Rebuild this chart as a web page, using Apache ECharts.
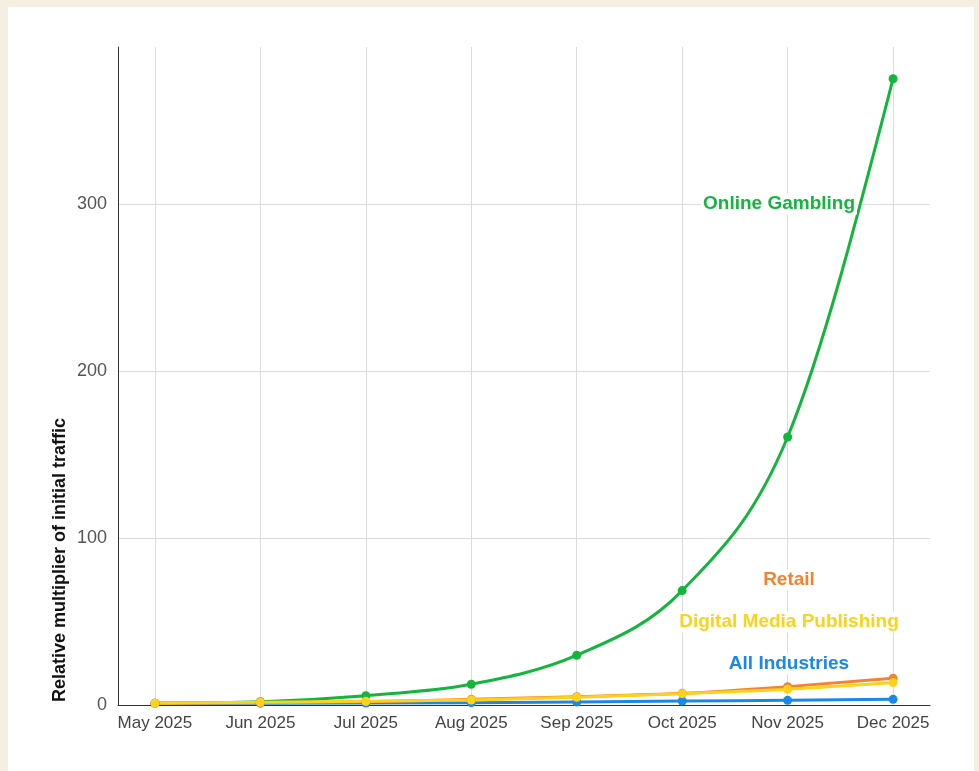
<!DOCTYPE html>
<html>
<head>
<meta charset="utf-8">
<script src="https://cdn.jsdelivr.net/npm/echarts@6/dist/echarts.min.js"></script>
<style>
  html, body { margin: 0; padding: 0; background: #f5efe2; }
  #card {
    position: absolute; left: 8px; top: 7px; width: 966px; height: 764px;
    background: #ffffff;
  }
  #chart { width: 979px; height: 771px; position: absolute; left: -8px; top: -7px; }
</style>
</head>
<body>
<div id="card"><div id="chart"></div></div>
<script>
// Month labels for the x axis
const months = ['May 2025', 'Jun 2025', 'Jul 2025', 'Aug 2025', 'Sep 2025', 'Oct 2025', 'Nov 2025', 'Dec 2025'];

// Relative multiplier of initial traffic
const onlineGambling = [1, 2, 5.6, 12.4, 29.8, 68.5, 160.5, 375];
const retail = [1, 1.4, 2, 3.4, 5, 7, 11, 16];
const digitalMedia = [1, 1.6, 2.2, 3, 4.6, 6.8, 9.4, 13.4];
const allIndustries = [1, 1.1, 1.2, 1.4, 1.8, 2.4, 2.8, 3.4];

const yTicks = [0, 100, 200, 300];

const toPairs = arr => arr.map((v, i) => [i, v]);

const chart = echarts.init(document.getElementById('chart'));

// monotone-x tangents (same idea as d3.curveMonotoneX), in pixel space
function tangents(pts) {
  const n = pts.length;
  const d = [], m = new Array(n).fill(0);
  for (let k = 0; k < n - 1; k++) {
    d.push((pts[k + 1][1] - pts[k][1]) / (pts[k + 1][0] - pts[k][0]));
  }
  for (let k = 1; k < n - 1; k++) {
    const h0 = pts[k][0] - pts[k - 1][0], h1 = pts[k + 1][0] - pts[k][0];
    const s0 = d[k - 1], s1 = d[k];
    const p = (s0 * h1 + s1 * h0) / (h0 + h1);
    m[k] = (Math.sign(s0) + Math.sign(s1)) * Math.min(Math.abs(s0), Math.abs(s1), 0.5 * Math.abs(p)) || 0;
  }
  m[0] = (3 * d[0] - m[1]) / 2;
  m[n - 1] = (3 * d[n - 2] - m[n - 2]) / 2;
  return m;
}

function curveSeries(name, values, color) {
  return {
    name: name,
    type: 'custom',
    data: toPairs(values),
    encode: { x: 0, y: 1 },
    silent: true,
    renderItem: function (params, api) {
      const i = params.dataIndex;
      const pts = values.map((v, k) => api.coord([k, v]));
      const m = tangents(pts);
      const children = [];
      if (i < pts.length - 1) {
        const a = pts[i], b = pts[i + 1];
        const dx = (b[0] - a[0]) / 3;
        children.push({
          type: 'bezierCurve',
          shape: {
            x1: a[0], y1: a[1], x2: b[0], y2: b[1],
            cpx1: a[0] + dx, cpy1: a[1] + dx * m[i],
            cpx2: b[0] - dx, cpy2: b[1] - dx * m[i + 1]
          },
          style: { stroke: color, lineWidth: 3, fill: null, lineCap: 'round' }
        });
      }
      children.push({
        type: 'circle',
        shape: { cx: pts[i][0], cy: pts[i][1], r: 4.5 },
        style: { fill: color },
        z2: 10
      });
      return { type: 'group', children: children };
    }
  };
}

const labelFont = 'bold 19px "Liberation Sans", Arial, sans-serif';

function seriesLabel(text, x, y, color) {
  return {
    type: 'text', x: x, y: y, z: 50,
    style: {
      text: text, font: labelFont, fill: color,
      align: 'center', verticalAlign: 'middle',
      backgroundColor: '#ffffff', padding: [1, 2]
    }
  };
}

chart.setOption({
  animation: false,
  grid: { left: 118, right: 49, top: 47, bottom: 66, containLabel: false },
  xAxis: {
    type: 'value',
    min: -0.35,
    max: 7.35,
    splitNumber: 8,
    minInterval: 1,
    axisLine: { show: true, onZero: false, lineStyle: { color: '#333', width: 1 } },
    axisTick: { show: false },
    axisLabel: {
      color: '#444',
      fontSize: 17,
      fontFamily: '"Liberation Sans", Arial, sans-serif',
      margin: 10,
      showMinLabel: false,
      showMaxLabel: false,
      formatter: v => (Number.isInteger(v) && months[v]) ? months[v] : ''
    },
    splitLine: { show: true, showMinLine: false, showMaxLine: false, lineStyle: { color: '#dcdcdc', width: 1 } }
  },
  yAxis: {
    type: 'value',
    min: 0,
    max: 394,
    interval: 100,
    axisLine: { show: true, onZero: false, lineStyle: { color: '#333', width: 1 } },
    axisTick: { show: false },
    axisLabel: {
      color: '#555',
      fontSize: 18,
      fontFamily: '"Liberation Sans", Arial, sans-serif',
      margin: 11,
      showMaxLabel: false,
      formatter: v => yTicks.includes(v) ? String(v) : ''
    },
    splitLine: { show: true, showMaxLine: false, lineStyle: { color: '#dcdcdc', width: 1 } }
  },
  series: [
    curveSeries('Online Gambling', onlineGambling, '#14b53d'),
    curveSeries('All Industries', allIndustries, '#1a88e8'),
    curveSeries('Retail', retail, '#f5822f'),
    curveSeries('Digital Media Publishing', digitalMedia, '#fdd21a')
  ],
  graphic: [
    {
      type: 'text', x: 60, y: 560, rotation: Math.PI / 2,
      style: { text: 'Relative multiplier of initial traffic', font: 'bold 18px "Liberation Sans", Arial, sans-serif', fill: '#111', align: 'center', verticalAlign: 'middle' }
    },
    seriesLabel('Online Gambling', 779, 204, '#14b53d'),
    seriesLabel('Retail', 789, 580, '#f5822f'),
    seriesLabel('Digital Media Publishing', 789, 622, '#fdd21a'),
    seriesLabel('All Industries', 789, 664, '#1a88e8')
  ]
});

window.addEventListener('resize', () => chart.resize());
</script>
</body>
</html>
